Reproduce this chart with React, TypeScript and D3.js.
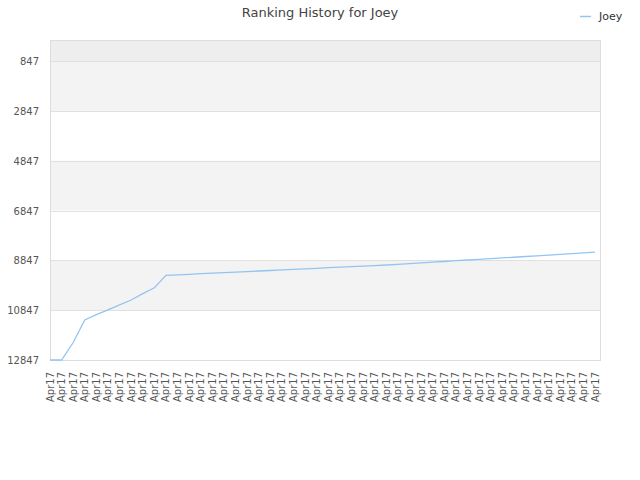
import { useEffect, useRef } from 'react';
import * as d3 from 'd3';

const title = 'Ranking History for Joey';
const seriesName = 'Joey';
const dateLabels: string[] = Array.from({ length: 48 }, () => 'Apr17');
const ranks: number[] = [
  12847, 12847, 12144, 11240, 11028, 10836, 10633, 10438, 10181, 9945,
  9451, 9427, 9407, 9383, 9359, 9338, 9318, 9298, 9274, 9254,
  9230, 9210, 9186, 9166, 9142, 9122, 9098, 9078, 9058, 9034,
  9006, 8977, 8949, 8921, 8893, 8861, 8833, 8805, 8777, 8749,
  8721, 8692, 8664, 8636, 8604, 8576, 8548, 8520,
];
const yTicks: number[] = [847, 2847, 4847, 6847, 8847, 10847, 12847];
const rankMin = 0;
const rankMax = 12847;

const W = 640;
const H = 480;
const plot = { left: 50, right: 600, top: 40, bottom: 360 };
const font = 'DejaVu Sans, sans-serif';
const lineColor = '#94c4f2';

export default function App() {
  const ref = useRef<SVGSVGElement>(null);

  useEffect(() => {
    const el = ref.current;
    if (!el) return;
    const svg = d3.select(el);
    svg.selectAll('*').remove();

    const x = d3.scalePoint<number>()
      .domain(ranks.map((_, i) => i))
      .range([plot.left, plot.right - 5]);
    const y = d3.scaleLinear().domain([rankMin, rankMax]).range([plot.top, plot.bottom]);

    // alternating bands between gridlines
    const edges = [rankMin, ...yTicks];
    const bands = svg.append('g');
    edges.slice(0, -1).forEach((v, i) => {
      const fill = i === 0 ? '#eeeeee' : i % 2 === 1 ? '#f3f3f3' : '#ffffff';
      bands.append('rect')
        .attr('x', plot.left)
        .attr('y', y(v))
        .attr('width', plot.right - plot.left)
        .attr('height', y(edges[i + 1]) - y(v))
        .attr('fill', fill);
    });

    // gridlines
    svg.append('g')
      .selectAll('line')
      .data(yTicks)
      .join('line')
      .attr('x1', plot.left)
      .attr('x2', plot.right)
      .attr('y1', (d) => Math.round(y(d)) + 0.5)
      .attr('y2', (d) => Math.round(y(d)) + 0.5)
      .attr('stroke', '#e0e0e0');

    // frame
    svg.append('rect')
      .attr('x', plot.left + 0.5)
      .attr('y', plot.top + 0.5)
      .attr('width', plot.right - plot.left)
      .attr('height', plot.bottom - plot.top)
      .attr('fill', 'none')
      .attr('stroke', '#dddddd');

    // y labels
    svg.append('g')
      .selectAll('text')
      .data(yTicks)
      .join('text')
      .attr('x', 39)
      .attr('y', (d) => y(d) + 4)
      .attr('text-anchor', 'end')
      .attr('font-family', font)
      .attr('font-size', 10)
      .attr('fill', '#555')
      .text((d) => String(d));

    // x labels
    svg.append('g')
      .selectAll('text')
      .data(dateLabels)
      .join('text')
      .attr('transform', (_, i) => `translate(${x(i)! + 3.5},372) rotate(-90)`)
      .attr('text-anchor', 'end')
      .attr('font-family', font)
      .attr('font-size', 10)
      .attr('fill', '#555')
      .text((d) => d);

    // line
    const line = d3.line<number>()
      .x((_, i) => x(i)!)
      .y((d) => y(d));
    svg.append('path')
      .datum(ranks)
      .attr('d', line)
      .attr('fill', 'none')
      .attr('stroke', lineColor)
      .attr('stroke-width', 1.3);

    // title
    svg.append('text')
      .attr('x', W / 2)
      .attr('y', 17)
      .attr('text-anchor', 'middle')
      .attr('font-family', font)
      .attr('font-size', 13)
      .attr('fill', '#444')
      .text(title);

    // legend
    svg.append('line')
      .attr('x1', 580).attr('x2', 591)
      .attr('y1', 16.5).attr('y2', 16.5)
      .attr('stroke', lineColor)
      .attr('stroke-width', 1.5);
    svg.append('text')
      .attr('x', 599)
      .attr('y', 20)
      .attr('font-family', font)
      .attr('font-size', 11)
      .attr('fill', '#333')
      .text(seriesName);
  }, []);

  return (
    <svg
      ref={ref}
      width={W}
      height={H}
      style={{ position: 'absolute', left: 0, top: 0, background: '#fff' }}
    />
  );
}
